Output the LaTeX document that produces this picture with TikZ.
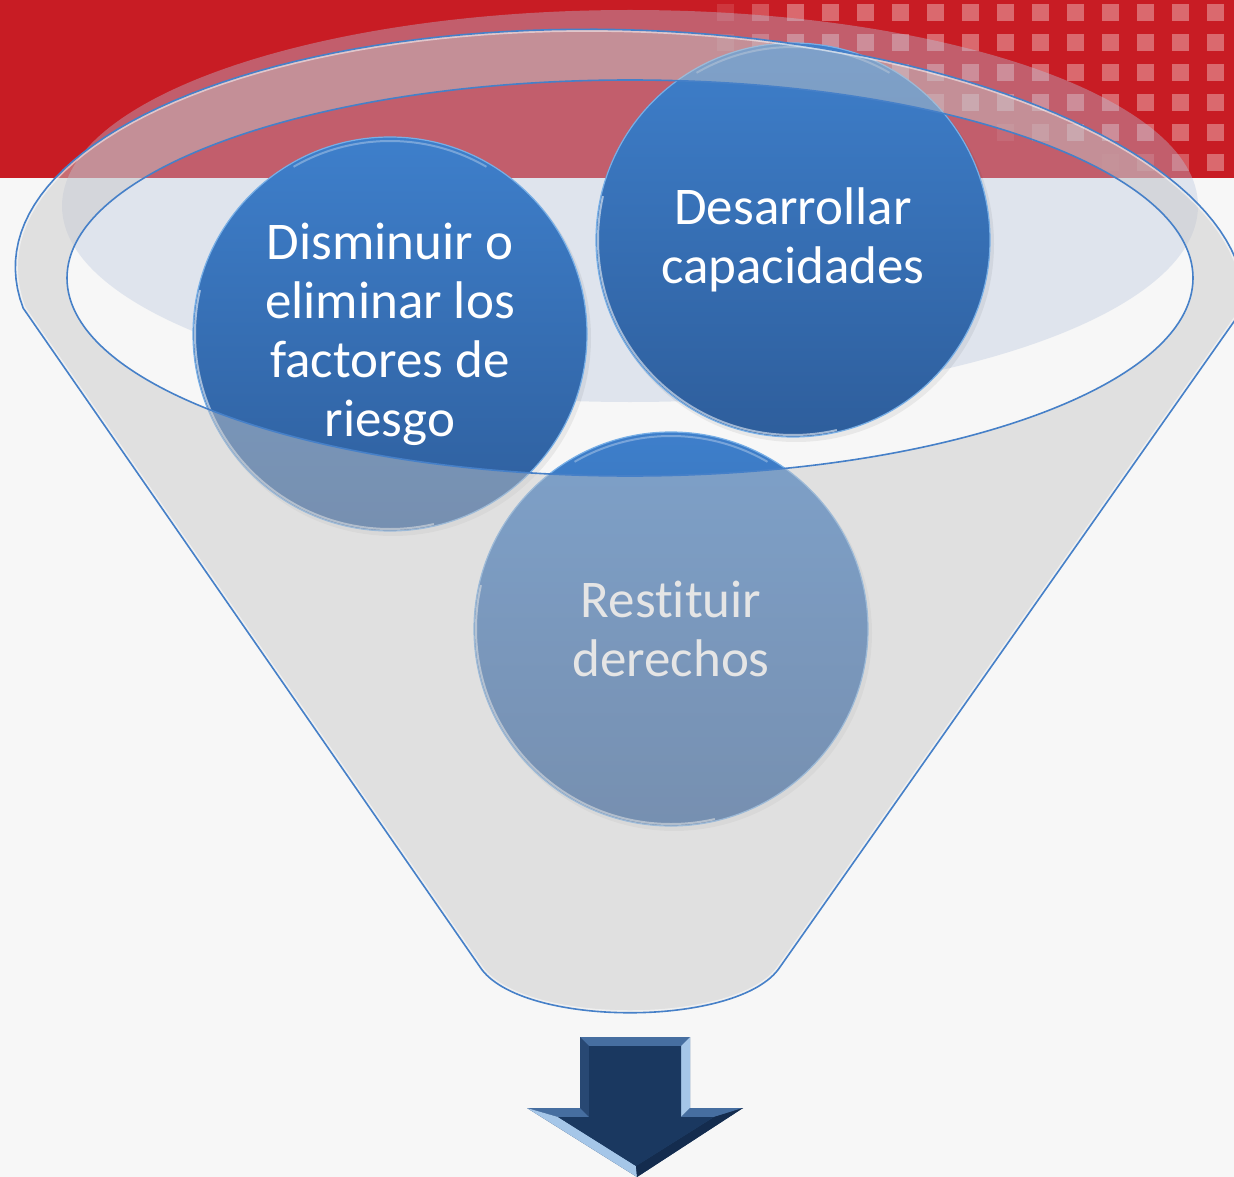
\documentclass[tikz,border=0pt]{standalone}
\usepackage{fontspec}
\setmainfont{Carlito}[Ligatures={NoCommon,NoDiscretionary,NoRare}]
\definecolor{redband}{RGB}{200,28,36}
\definecolor{bgc}{RGB}{247,247,247}
\definecolor{paleC}{RGB}{187,200,223}
\definecolor{bodyC}{RGB}{200,200,200}
\definecolor{lineC}{RGB}{70,128,200}
\definecolor{cTop}{RGB}{62,127,203}
\definecolor{cBot}{RGB}{46,94,156}
\definecolor{cEdge}{RGB}{120,175,230}
\definecolor{arrIn}{RGB}{26,56,96}
\definecolor{arrMid}{RGB}{40,72,115}
\definecolor{arrTop}{RGB}{70,110,160}
\definecolor{arrHi}{RGB}{165,198,232}
\definecolor{arrDark}{RGB}{20,44,78}
\begin{document}
\begin{tikzpicture}[x=1pt,y=-1pt,
  bubble/.style={circle, minimum size=394pt, inner sep=0pt, top color=cTop, bottom color=cBot,
    draw=cEdge, line width=1.2pt, text=white, font=\fontsize{53}{59}\selectfont, align=center},
  outline/.style={draw=lineC, line width=1.6pt},
  gloss/.style={white, line width=2pt, opacity=.55}]
\def\bodypath{plot[domain=170:360, samples=90, variable=\t]
  ({630+615*cos(\t)*cos(2)-255*sin(\t)*sin(2)},{285+615*cos(\t)*sin(2)+255*sin(\t)*cos(2)})
  -- (780,967) .. controls (740,1028) and (520,1028) .. (480,967) -- cycle}
\useasboundingbox (0,0) rectangle (1234,1177);
% background
\fill[bgc] (0,0) rectangle (1234,1177);
\fill[redband] (0,0) rectangle (1234,178);
% square pattern
\foreach \j/\s in {0/690,1/690,2/740,3/860,4/980,5/1100}{
  \foreach \k in {0,...,14}{
    \pgfmathsetmacro\xx{725+35*\k}
    \pgfmathsetmacro\yy{13+30*\j}
    \pgfmathsetmacro\op{max(0,min(0.34,(\xx-\s)*0.34/100))}
    \fill[white, opacity=\op] (\xx-8.5,\yy-8.5) rectangle ++(17,17);
  }
}
% back wall of the funnel opening
\fill[paleC, opacity=.39] (630,206) ellipse[x radius=568pt, y radius=196pt];
% shadows
\fill[black, opacity=.06] (393,338) circle[radius=198pt];
\fill[black, opacity=.06] (796,244) circle[radius=198pt];
\fill[black, opacity=.06] (674,633) circle[radius=198pt];
% circles
\node[bubble] (c1) at (390,334) {Disminuir o\\eliminar los\\factores de\\riesgo};
\node[bubble] (c2) at (793,240) {Desarrollar\\capacidades};
\node[bubble] (c3) at (671,629) {Restituir\\derechos};
\foreach \c in {c1,c2,c3}{
  \begin{scope}
    \clip (\c.center) -- ++(-260,-60) -- ++(0,320) -- ++(320,0) -- cycle;
    \draw[gloss] (\c.center) circle[radius=195pt];
  \end{scope}
  \begin{scope}
    \clip (\c.center) -- ++(-150,-260) -- ++(300,0) -- cycle;
    \draw[gloss, opacity=.3] (\c.center) circle[radius=193pt];
  \end{scope}
}
% funnel front (translucent), with the opening left clear
\fill[bodyC, opacity=.47, even odd rule] \bodypath (630,278) ellipse[x radius=563pt, y radius=198pt];
\begin{scope}
  \clip \bodypath;
  \draw[white, opacity=.5, line width=5pt] \bodypath;
\end{scope}
\draw[outline] \bodypath;
\draw[outline] (630,278) ellipse[x radius=563pt, y radius=198pt];
% arrow
\fill[arrMid] (580,1037) -- (690,1037) -- (690,1108) -- (743,1108) -- (637,1177) -- (527,1108) -- (580,1108) -- cycle;
\fill[arrTop] (580,1037) -- (690,1037) -- (681,1046) -- (589,1046) -- cycle;
\fill[arrHi] (690,1037) -- (690,1108) -- (681,1117) -- (681,1046) -- cycle;
\fill[arrMid] (580,1037) -- (589,1046) -- (589,1117) -- (580,1108) -- cycle;
\fill[arrTop] (527,1108) -- (580,1108) -- (589,1117) -- (558,1117) -- cycle;
\fill[arrTop] (690,1108) -- (743,1108) -- (714,1117) -- (681,1117) -- cycle;
\fill[arrHi] (527,1108) -- (558,1117) -- (636,1166) -- (637,1177) -- cycle;
\fill[arrDark] (743,1108) -- (637,1177) -- (636,1166) -- (714,1117) -- cycle;
\fill[arrIn] (589,1046) -- (681,1046) -- (681,1117) -- (714,1117) -- (636,1166) -- (558,1117) -- (589,1117) -- cycle;
\end{tikzpicture}
\end{document}
